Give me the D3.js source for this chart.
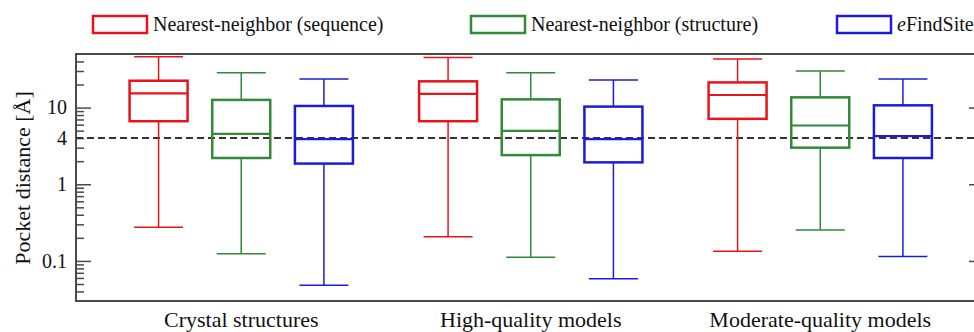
<!DOCTYPE html>
<html>
<head>
<meta charset="utf-8">
<script src="https://cdn.jsdelivr.net/npm/d3@7"></script>
<style>
  body { margin: 0; background: #fff; }
</style>
</head>
<body>
<div id="chart"></div>
<script>
// data: [min, q1, median, q3, max] per category
var categories = ["Crystal structures", "High-quality models", "Moderate-quality models"];
var seriesNames = ["Nearest-neighbor (sequence)", "Nearest-neighbor (structure)", "eFindSite"];
var seqStats = [[0.274, 6.64, 15.3, 22.4, 45.9], [0.207, 6.64, 15.1, 22.0, 45.0], [0.134, 7.13, 14.6, 21.3, 42.9]];
var structStats = [[0.124, 2.2, 4.55, 12.6, 28.5], [0.112, 2.4, 4.98, 12.8, 28.5], [0.253, 3.0, 5.84, 13.6, 29.9]];
var efsStats = [[0.0483, 1.86, 3.88, 10.5, 23.6], [0.0584, 1.93, 3.88, 10.3, 22.9], [0.114, 2.2, 4.24, 10.7, 23.6]];
var majorTicks = [0.1, 1, 10];
var minorTicks = [0.04, 0.05, 0.06, 0.07, 0.08, 0.09, 0.2, 0.3, 0.4, 0.5, 0.6, 0.7, 0.8, 0.9,
                  2, 3, 4, 5, 6, 7, 8, 9, 20, 30, 40];
var threshold = 4;

var colors = ["#e8141c", "#32893a", "#1c1cd8"];
var allStats = [seqStats, structStats, efsStats];

var W = 974, H = 332;
var frame = {left: 76, right: 984, top: 54, bottom: 301};
var serif = "Liberation Serif";

var svg = d3.select("#chart").append("svg")
    .attr("width", W)
    .attr("height", H);

var yScale = d3.scaleLog()
    .domain([0.03, 50])
    .range([frame.bottom, frame.top]);

var xScale = d3.scaleBand()
    .domain(categories)
    .range([96.5, 965]);

var innerScale = d3.scaleBand()
    .domain(seriesNames)
    .range([-124, 124]);

var boxW = 58, capW = 49;

// frame
svg.append("rect")
    .attr("x", frame.left)
    .attr("y", frame.top)
    .attr("width", frame.right - frame.left)
    .attr("height", frame.bottom - frame.top)
    .attr("fill", "none")
    .attr("stroke", "#4a4a4a")
    .attr("stroke-width", 2);

function styleAxis(g) {
  g.attr("font-family", serif);
  g.select(".domain").remove();
  g.selectAll(".tick line").attr("stroke", "#4a4a4a").attr("stroke-width", 1.5);
  g.selectAll(".tick text")
      .attr("fill", "#111")
      .attr("font-size", 20);
}

// left axis: major ticks with labels
svg.append("g")
    .attr("transform", "translate(" + frame.left + ",0)")
    .call(d3.axisLeft(yScale)
        .tickValues(majorTicks)
        .tickSize(-15)
        .tickPadding(9)
        .tickFormat(function(d) { return d3.format("~g")(d); }))
    .call(styleAxis);

// minor ticks, only "4" labelled
svg.append("g")
    .attr("transform", "translate(" + frame.left + ",0)")
    .call(d3.axisLeft(yScale)
        .tickValues(minorTicks)
        .tickSize(-8)
        .tickFormat(function(d) { return d === threshold ? "4" : ""; })
        .tickPadding(9))
    .call(styleAxis);

// right axis, major ticks only
svg.append("g")
    .attr("transform", "translate(" + frame.right + ",0)")
    .call(d3.axisRight(yScale)
        .tickValues(majorTicks)
        .tickSize(-15)
        .tickFormat(""))
    .call(styleAxis);

// threshold line
svg.append("line")
    .attr("x1", frame.left)
    .attr("x2", frame.right)
    .attr("y1", yScale(threshold))
    .attr("y2", yScale(threshold))
    .attr("stroke", "#333")
    .attr("stroke-width", 2)
    .attr("stroke-dasharray", "7,4");

// boxes
allStats.forEach(function(stats, si) {
  var c = colors[si];
  stats.forEach(function(s, ci) {
    var cx = xScale(categories[ci]) + xScale.bandwidth() / 2 +
             innerScale(seriesNames[si]) + innerScale.bandwidth() / 2;
    var g = svg.append("g");
    // whiskers
    g.append("line")
        .attr("x1", cx).attr("x2", cx)
        .attr("y1", yScale(s[0])).attr("y2", yScale(s[1]))
        .attr("stroke", c).attr("stroke-width", 1.5);
    g.append("line")
        .attr("x1", cx).attr("x2", cx)
        .attr("y1", yScale(s[3])).attr("y2", yScale(s[4]))
        .attr("stroke", c).attr("stroke-width", 1.5);
    [s[0], s[4]].forEach(function(v) {
      g.append("line")
          .attr("x1", cx - capW / 2).attr("x2", cx + capW / 2)
          .attr("y1", yScale(v)).attr("y2", yScale(v))
          .attr("stroke", c).attr("stroke-width", 1.5);
    });
    g.append("rect")
        .attr("x", cx - boxW / 2)
        .attr("y", yScale(s[3]))
        .attr("width", boxW)
        .attr("height", yScale(s[1]) - yScale(s[3]))
        .attr("fill", "none")
        .attr("stroke", c)
        .attr("stroke-width", 2.5);
    g.append("line")
        .attr("x1", cx - boxW / 2).attr("x2", cx + boxW / 2)
        .attr("y1", yScale(s[2])).attr("y2", yScale(s[2]))
        .attr("stroke", c).attr("stroke-width", 2.2);
  });
});

// category labels
svg.selectAll(".cat")
    .data(categories)
  .enter().append("text")
    .attr("class", "cat")
    .attr("x", function(d) { return xScale(d) + xScale.bandwidth() / 2; })
    .attr("y", 327)
    .attr("text-anchor", "middle")
    .attr("font-family", serif)
    .attr("font-size", 22)
    .attr("fill", "#111")
    .text(function(d) { return d; });

// y label
svg.append("text")
    .attr("transform", "translate(30,178) rotate(-90)")
    .attr("text-anchor", "middle")
    .attr("font-family", serif)
    .attr("font-size", 22)
    .attr("fill", "#111")
    .text("Pocket distance [Å]");

// legend
var legendX = [93, 471, 837];
seriesNames.forEach(function(name, i) {
  svg.append("rect")
      .attr("x", legendX[i])
      .attr("y", 16)
      .attr("width", 54)
      .attr("height", 17)
      .attr("fill", "none")
      .attr("stroke", colors[i])
      .attr("stroke-width", 2.5);
  var t = svg.append("text")
      .attr("x", legendX[i] + 60)
      .attr("y", 31)
      .attr("font-family", serif)
      .attr("font-size", 20)
      .attr("fill", "#111");
  if (name === "eFindSite") {
    t.append("tspan").attr("font-style", "italic").text("e");
    t.append("tspan").text("FindSite");
  } else {
    t.text(name);
  }
});
</script>
</body>
</html>
